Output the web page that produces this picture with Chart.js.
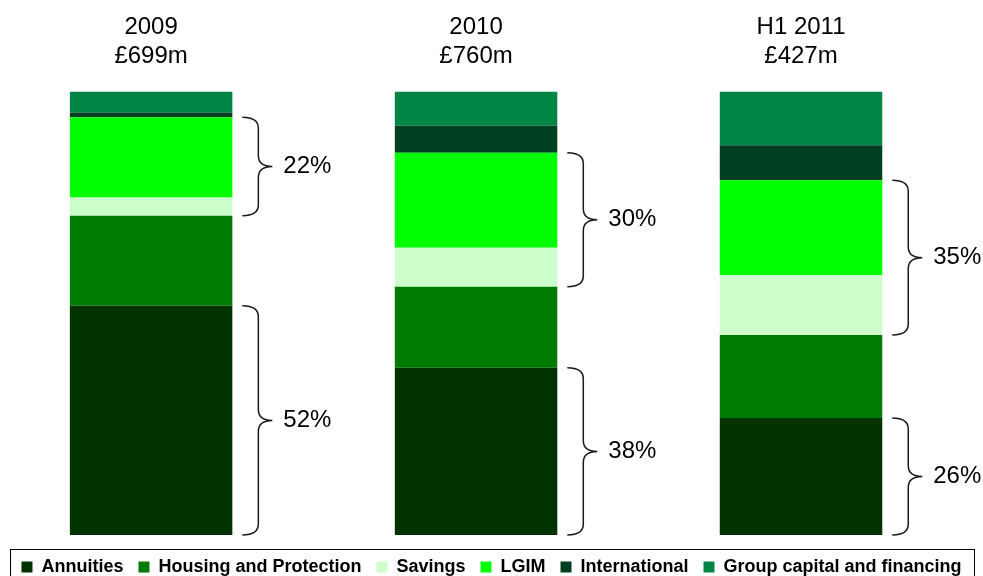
<!DOCTYPE html>
<html>
<head>
<meta charset="utf-8">
<script src="https://cdn.jsdelivr.net/npm/chart.js@4.4.0/dist/chart.umd.min.js"></script>
<style>
  html, body { margin: 0; padding: 0; background: #fff; }
  #wrap { position: relative; width: 983px; height: 576px; }
</style>
</head>
<body>
<div id="wrap"><canvas id="chart"></canvas></div>
<script>
// share of operating profit by business, % of each period's total
const periods = [['2009', '£699m'], ['2010', '£760m'], ['H1 2011', '£427m']];
const annuities = [51.7, 37.7, 26.4];
const housing = [20.3, 18.3, 18.7];
const savings = [4.1, 8.8, 13.5];
const lgim = [18.1, 21.4, 21.4];
const international = [1.1, 6.1, 7.9];
const groupCapital = [4.7, 7.7, 12.1];

const FONT = '"Liberation Sans", Arial, sans-serif';

function drawBrace(ctx, x, top, bottom, text) {
  const mid = (top + bottom) / 2;
  const w1 = 16, w2 = 14;
  const r = Math.min(11, (bottom - top) / 4);
  ctx.save();
  ctx.strokeStyle = '#1a1a1a';
  ctx.lineWidth = 1.5;
  ctx.beginPath();
  ctx.moveTo(x, top);
  ctx.quadraticCurveTo(x + w1, top, x + w1, top + r);
  ctx.lineTo(x + w1, mid - r);
  ctx.quadraticCurveTo(x + w1, mid, x + w1 + w2, mid);
  ctx.quadraticCurveTo(x + w1, mid, x + w1, mid + r);
  ctx.lineTo(x + w1, bottom - r);
  ctx.quadraticCurveTo(x + w1, bottom, x, bottom);
  ctx.stroke();
  ctx.font = '24px ' + FONT;
  ctx.fillStyle = '#000';
  ctx.textBaseline = 'middle';
  ctx.textAlign = 'left';
  ctx.fillText(text, x + w1 + w2 + 11, mid);
  ctx.restore();
}

const bracePlugin = {
  id: 'braces',
  afterDatasetsDraw(chart) {
    const ctx = chart.ctx;
    const y = chart.scales.y;
    const meta = chart.getDatasetMeta(0);
    periods.forEach((p, i) => {
      const bar = meta.data[i];
      const right = bar.x + bar.width / 2 + 10;
      const a = annuities[i], h = housing[i], s = savings[i], l = lgim[i];
      drawBrace(ctx, right, y.getPixelForValue(a), y.getPixelForValue(0), Math.round(a) + '%');
      drawBrace(ctx, right, y.getPixelForValue(a + h + s + l), y.getPixelForValue(a + h), Math.round(s + l) + '%');
    });
  }
};

const legendBoxPlugin = {
  id: 'legendBox',
  afterDraw(chart) {
    const boxes = chart.legend.legendHitBoxes;
    if (!boxes || !boxes.length) return;
    const left = Math.min(...boxes.map(b => b.left)) - 11;
    const right = Math.max(...boxes.map(b => b.left + b.width)) + 13;
    const top = Math.min(...boxes.map(b => b.top)) - 9;
    const ctx = chart.ctx;
    ctx.save();
    ctx.strokeStyle = '#000';
    ctx.lineWidth = 1;
    ctx.strokeRect(Math.round(left) + 0.5, Math.round(top) + 0.5, Math.round(right - left), 40);
    ctx.restore();
  }
};

new Chart(document.getElementById('chart'), {
  type: 'bar',
  data: {
    labels: [0, 1, 2],
    datasets: [
      { label: 'Annuities', data: annuities, backgroundColor: '#003300' },
      { label: 'Housing and Protection', data: housing, backgroundColor: '#007a00' },
      { label: 'Savings', data: savings, backgroundColor: '#ccffcc' },
      { label: 'LGIM', data: lgim, backgroundColor: '#00ff00' },
      { label: 'International', data: international, backgroundColor: '#004020' },
      { label: 'Group capital and financing', data: groupCapital, backgroundColor: '#008545' }
    ]
  },
  options: {
    responsive: true,
    maintainAspectRatio: false,
    animation: false,
    layout: { padding: { top: 0, left: 0, right: 0, bottom: -10 } },
    datasets: { bar: { categoryPercentage: 1, barPercentage: 0.5, borderWidth: 0 } },
    scales: {
      x: {
        type: 'linear',
        position: 'top',
        stacked: true,
        offset: false,
        min: -0.465,
        max: 2.56,
        grid: { display: false },
        border: { display: false },
        ticks: {
          stepSize: 1,
          includeBounds: false,
          autoSkip: false,
          maxRotation: 0,
          padding: 13,
          color: '#000',
          font: { family: FONT, size: 24 },
          callback: v => periods[v] || ''
        }
      },
      y: {
        stacked: true,
        display: false,
        min: 0,
        max: 100
      }
    },
    plugins: {
      legend: {
        position: 'bottom',
        title: { display: true, text: '', font: { size: 8, lineHeight: 1 }, padding: 0 },
        labels: {
          color: '#000',
          font: { family: FONT, size: 18, weight: 'bold' },
          boxWidth: 11,
          boxHeight: 11,
          padding: 15
        }
      },
      tooltip: { enabled: false }
    }
  },
  plugins: [bracePlugin, legendBoxPlugin]
});
</script>
</body>
</html>
